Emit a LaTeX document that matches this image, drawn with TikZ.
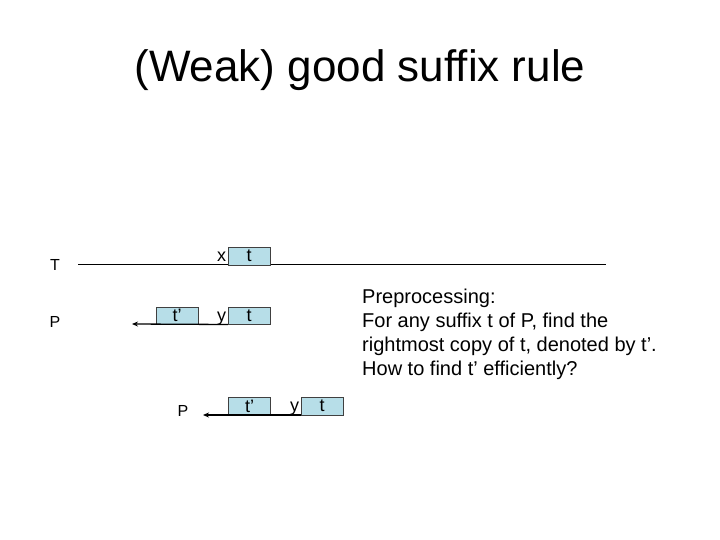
\documentclass[tikz,border=0pt]{standalone}
\usepackage{fontspec}
\setmainfont{Liberation Sans}
\usetikzlibrary{positioning,arrows.meta}
\definecolor{boxblue}{RGB}{183,222,232}

\begin{document}
\begin{tikzpicture}[
      x=1pt,y=-1pt,
      >={Stealth[length=6pt,width=5pt]},
      seg/.style={draw=black!75,line width=0.5pt,fill=boxblue,
        minimum width=42pt,minimum height=17.5pt,inner sep=0pt,
        font=\fontsize{18}{20}\selectfont},
      lbl/.style={inner sep=0pt,anchor=base,font=\fontsize{16}{18}\selectfont},
      chr/.style={inner sep=0pt,anchor=base east,font=\fontsize{18}{20}\selectfont},
      slide/.style={draw=black,line width=1.3pt,->}
    ]
    \useasboundingbox (0,0) rectangle (720,540);
    % title
    \node[inner sep=0pt,anchor=base,font=\fontsize{44}{50}\selectfont] (title)
      at (360,82) {(Weak) good suffix rule};
    % text row T
    \node[lbl] (Tlab) at (55,270.5) {T};
    \coordinate (Tbeg) at (78,264);
    \coordinate (Tend) at (606,264);
    \draw[line width=0.6pt] (Tbeg) -- (Tend);
    \node[seg] (Tt) at (249,256) {t};
    \node[chr] (Tx) at ([xshift=-1.5pt]Tt.base west) {x};
    % pattern row P
    \node[lbl] (Plab) at (55,327) {P};
    \node[seg] (Pt) at (249,315.5) {t};
    \node[seg] (Ptp) at (177,315.5) {t’};
    \node[chr] (Py) at ([xshift=-1.5pt]Pt.base west) {y};
    \coordinate (Ptip) at (132,324);
    \draw[slide] (Pt.south west) -- (Ptip);
    % shifted pattern
    \node[seg] (St) at (322,406) {t};
    \node[seg] (Stp) at (249.5,406) {t’};
    \node[chr] (Sy) at ([xshift=-1.5pt]St.base west) {y};
    \coordinate (Stip) at (203,415);
    \draw[slide] (St.south west) -- (Stip);
    \node[lbl] (Slab) at (183,416.5) {P};
    % preprocessing note
    \node[inner sep=0pt,anchor=north west,align=left,
      font=\fontsize{20}{24}\selectfont] (note) at (362,289)
      {Preprocessing:\\
       For any suffix t of P, find the\\
       rightmost copy of t, denoted by t’.\\
       How to find t’ efficiently?};
  \end{tikzpicture}
\end{document}
